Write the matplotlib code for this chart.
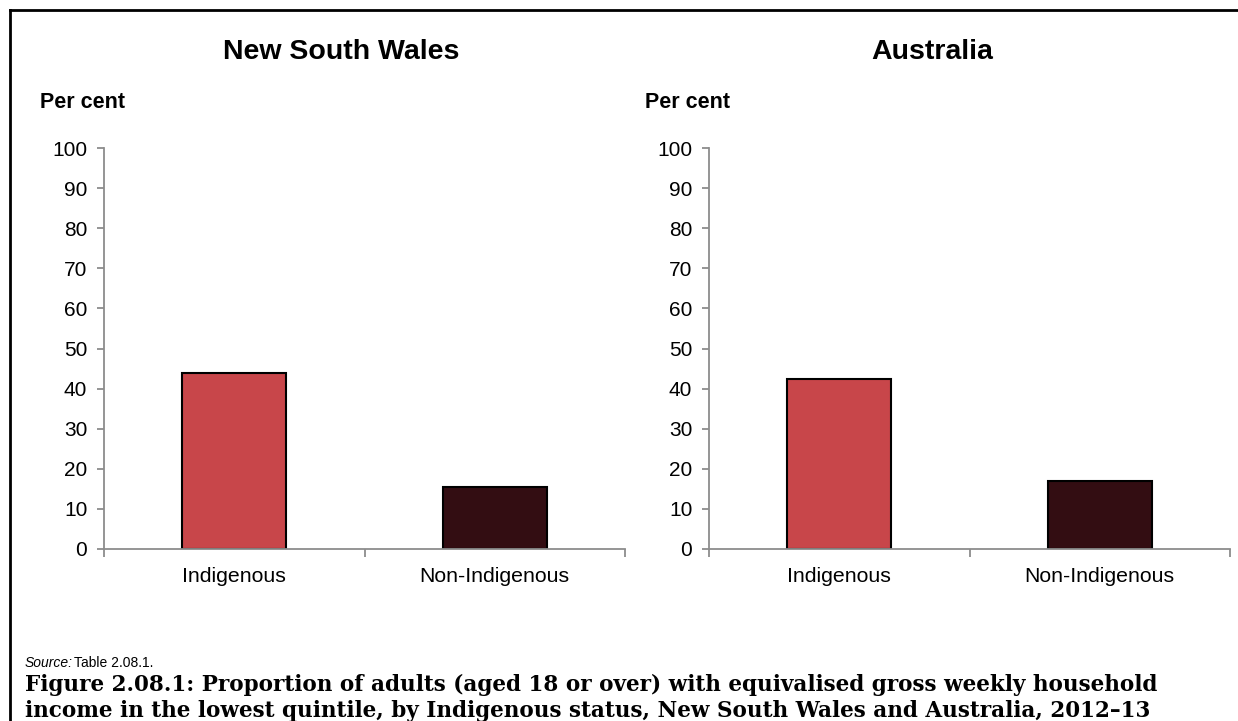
import numpy as np
import matplotlib.pyplot as plt
from matplotlib.lines import Line2D

categories = ['Indigenous', 'Non-Indigenous']
nsw_values = [44.0, 15.5]
aus_values = [42.5, 17.0]
panel_titles = ['New South Wales', 'Australia']
yticks = list(range(0, 101, 10))

bar_colors = ['#C8464A', '#330D12']
axis_grey = '#8C8C8C'

plt.rcParams['font.family'] = ['Liberation Sans', 'DejaVu Sans']

fig = plt.figure(figsize=(12.38, 7.21), dpi=100)
W, H = 1238, 721

# panel boxes in pixels: (left, right, top(100), bottom(0)), title centre
panels = [(104, 625, 148, 549, 341), (709, 1230, 148, 549, 932)]

for (l, r, t, b, cx), title, vals in zip(panels, panel_titles, [nsw_values, aus_values]):
    ax = fig.add_axes([l / W, 1 - b / H, (r - l) / W, (b - t) / H])
    x = np.arange(len(categories))
    ax.bar(x, vals, width=0.4, color=bar_colors, edgecolor='black', linewidth=1.5, zorder=3)
    ax.set_xlim(-0.5, len(categories) - 0.5)
    ax.set_ylim(0, 100)
    ax.set_yticks(yticks)
    ax.set_yticklabels([str(v) for v in yticks], fontsize=15)
    ax.set_xticks(x)
    ax.set_xticklabels(categories, fontsize=15.3)
    ax.set_xticks(np.arange(-0.5, len(categories)), minor=True)
    ax.tick_params(axis='x', which='major', length=0, pad=13)
    ax.tick_params(axis='x', which='minor', length=6, color=axis_grey, width=1.3)
    ax.tick_params(axis='y', length=5, color=axis_grey, width=1.3, pad=7)
    for s in ['top', 'right']:
        ax.spines[s].set_visible(False)
    for s in ['left', 'bottom']:
        ax.spines[s].set_color(axis_grey)
        ax.spines[s].set_linewidth(1.3)
    ax.spines['bottom'].set_zorder(4)
    fig.text(cx / W, 1 - 52 / H, title, ha='center', va='center',
             fontsize=20.5, fontweight='bold')
    fig.text((l - 64) / W, 1 - 103 / H, 'Per cent', ha='left', va='center',
             fontsize=15.5, fontweight='bold')

# source note
fig.text(25 / W, 1 - 663 / H, 'Source:', ha='left', va='center',
         fontsize=10, fontstyle='italic')
fig.text(74 / W, 1 - 663 / H, 'Table 2.08.1.', ha='left', va='center', fontsize=10)

caption = ('Figure 2.08.1: Proportion of adults (aged 18 or over) with equivalised gross weekly household\n'
           'income in the lowest quintile, by Indigenous status, New South Wales and Australia, 2012\u201313')
fig.text(25 / W, 1 - 698 / H, caption, ha='left', va='center', fontsize=15.5,
         fontweight='bold', family=['DejaVu Serif'], linespacing=1.22)

# outer frame (top and left edges)
fig.add_artist(Line2D([10 / W, 10 / W], [0, 1 - 10 / H], color='black', linewidth=2))
fig.add_artist(Line2D([10 / W, 1], [1 - 10 / H, 1 - 10 / H], color='black', linewidth=2))

fig.savefig('out.png', dpi=100)
